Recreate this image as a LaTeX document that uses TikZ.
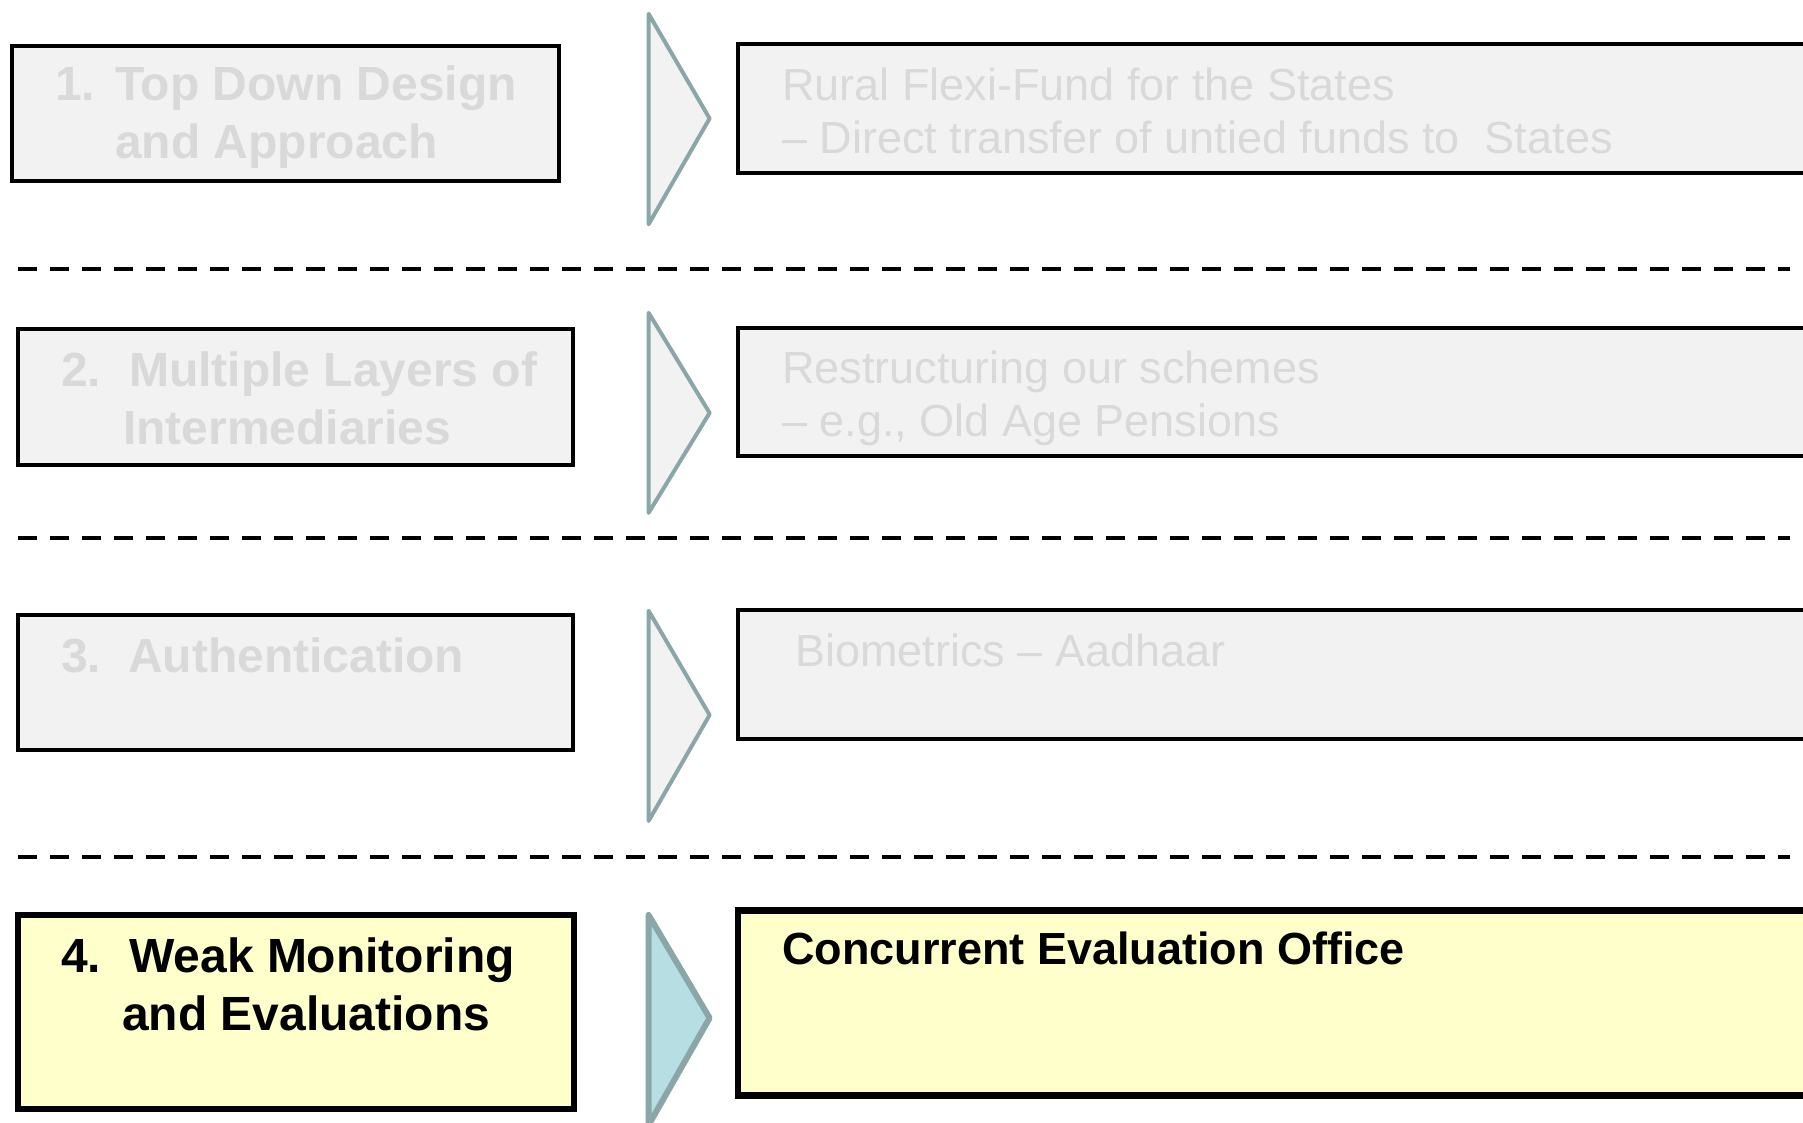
\documentclass[tikz,border=0pt]{standalone}
\usepackage{fontspec}
\setmainfont{Liberation Sans}
\definecolor{boxgrey}{HTML}{F2F2F2}
\definecolor{txtgrey}{HTML}{D9D9D9}
\definecolor{chevline}{HTML}{8BA6A8}
\definecolor{hiyellow}{HTML}{FFFFCC}
\definecolor{hiblue}{HTML}{B7DFE3}
\tikzset{
  greybox/.style={rectangle, draw=black, line width=4pt, fill=boxgrey, inner sep=0pt, outer sep=0pt, anchor=north west},
  hibox/.style={rectangle, draw=black, line width=6.5pt, fill=hiyellow, inner sep=0pt, outer sep=0pt, anchor=north west},
  chev/.style={draw=chevline, line width=4pt, fill=boxgrey, line join=round, line cap=round},
  chevhi/.style={draw=chevline, line width=6pt, fill=hiblue, line join=round, line cap=round},
  sepline/.style={draw=black, line width=3.5pt, dash pattern=on 19pt off 13pt},
  lefttxt/.style={font=\fontsize{48}{57.5}\selectfont\bfseries, text=txtgrey, anchor=base west, inner sep=0pt},
  righttxt/.style={font=\fontsize{45}{54}\selectfont, text=txtgrey, anchor=base west, inner sep=0pt},
  lefthi/.style={lefttxt, text=black},
  righthi/.style={righttxt, font=\fontsize{45}{54}\selectfont\bfseries, text=black},
}
\begin{document}
\begin{tikzpicture}[x=1pt,y=-1pt]
\useasboundingbox (0,0) rectangle (1803,1123);
\clip (0,0) rectangle (1803,1123);

% Row 1
\node[greybox, minimum width=547pt, minimum height=135pt] (b1) at (12.3,45.6) {};
\draw[chev] (648.6,13.8) -- (709.6,118.5) -- (648.6,224.3) -- cycle;
\node[greybox, minimum width=1200pt, minimum height=129pt] (r1) at (738,44.5) {};
\node[lefttxt] (b1n) at (55,101) {1.};
\node[lefttxt] (b1a) at (115,101) {Top Down Design};
\node[lefttxt] (b1b) at (115,159) {and Approach};
\node[righttxt] (r1a) at (782,101) {Rural Flexi-Fund for the States};
\node[righttxt] (r1b) at (782,154) {– Direct transfer of untied funds to\ \ States};

\coordinate (s1a) at (18.4,269);
\coordinate (s1b) at (1790,269);
\draw[sepline] (s1a) -- (s1b);

% Row 2
\node[greybox, minimum width=555pt, minimum height=136pt] (b2) at (18,328.6) {};
\draw[chev] (648.6,312.8) -- (709.6,412.9) -- (648.6,512.9) -- cycle;
\node[greybox, minimum width=1200pt, minimum height=128pt] (r2) at (738,327.5) {};
\node[lefttxt] (b2n) at (61,386) {2.};
\node[lefttxt] (b2a) at (129,386) {Multiple Layers of};
\node[lefttxt] (b2b) at (123,444) {Intermediaries};
\node[righttxt] (r2a) at (782,383) {Restructuring our schemes};
\node[righttxt] (r2b) at (782,436) {– e.g., Old Age Pensions};

\coordinate (s2a) at (18.4,538);
\coordinate (s2b) at (1790,538);
\draw[sepline] (s2a) -- (s2b);

% Row 3
\node[greybox, minimum width=555pt, minimum height=135pt] (b3) at (18,615) {};
\draw[chev] (648.6,610.7) -- (709.6,715) -- (648.6,821) -- cycle;
\node[greybox, minimum width=1200pt, minimum height=129pt] (r3) at (738,610.4) {};
\node[lefttxt] (b3n) at (61,672) {3.};
\node[lefttxt] (b3a) at (128,672) {Authentication};
\node[righttxt] (r3a) at (795,666) {Biometrics – Aadhaar};

\coordinate (s3a) at (18.4,857);
\coordinate (s3b) at (1790,857);
\draw[sepline] (s3a) -- (s3b);

% Row 4
\node[hibox, minimum width=556pt, minimum height=194pt] (b4) at (18.2,915) {};
\draw[chevhi] (648.6,915) -- (709.6,1018) -- (648.6,1125) -- cycle;
\node[hibox, minimum width=1200pt, minimum height=185pt] (r4) at (738.2,910.6) {};
\node[lefthi] (b4n) at (61,972) {4.};
\node[lefthi] (b4a) at (129,972) {Weak Monitoring};
\node[lefthi] (b4b) at (122,1030) {and Evaluations};
\node[righthi] (r4a) at (782,964) {Concurrent Evaluation Office};
\end{tikzpicture}
\end{document}
